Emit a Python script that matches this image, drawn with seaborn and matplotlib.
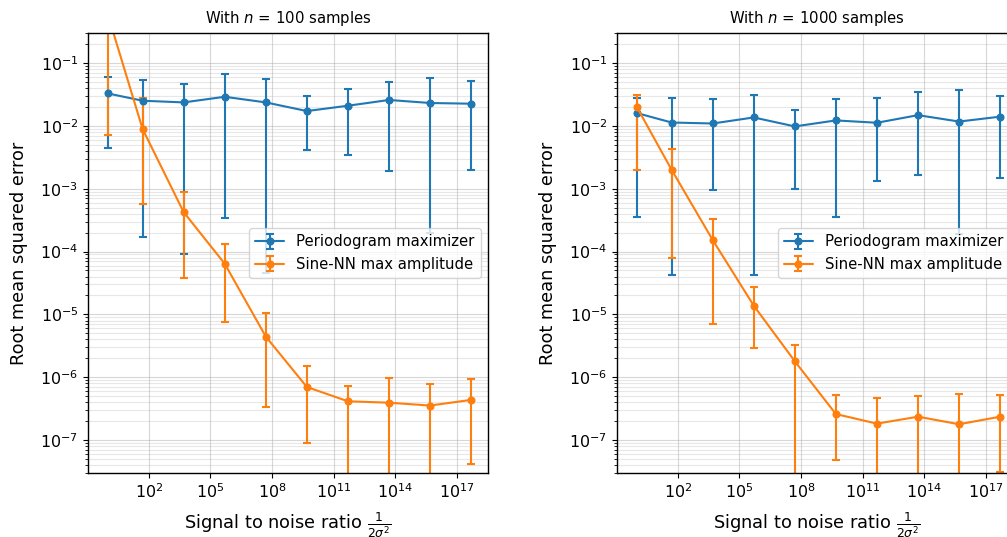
import numpy as np
import matplotlib
matplotlib.use("Agg")
import matplotlib.pyplot as plt
import seaborn as sns

# Signal to noise ratios 1/(2 sigma^2) on the x axis
snr = [1, 5e1, 5e3, 5e5, 5e7, 5e9, 5e11, 5e13, 5e15, 5e17]

# n = 100 samples: mean RMSE with lower / upper bar ends (0 = bar runs below the axis)
peri_mean_100 = [0.0328, 0.0251, 0.0236, 0.029, 0.0236, 0.0172, 0.0209, 0.0258, 0.0231, 0.0225]
peri_low_100 = [0.0044, 1.73e-4, 9.2e-5, 3.4e-4, 4.6e-5, 0.0041, 0.0035, 0.0019, 1.95e-4, 0.0020]
peri_high_100 = [0.060, 0.054, 0.0457, 0.0676, 0.056, 0.030, 0.038, 0.050, 0.058, 0.052]

nn_mean_100 = [0.6, 0.0089, 4.24e-4, 6.4e-5, 4.44e-6, 7.0e-7, 4.15e-7, 3.94e-7, 3.55e-7, 4.37e-7]
nn_low_100 = [0.0072, 5.7e-4, 3.86e-5, 7.6e-6, 3.4e-7, 8.9e-8, 0, 0, 0, 4.2e-8]
nn_high_100 = [1.2, 0.0273, 8.8e-4, 1.31e-4, 1.07e-5, 1.53e-6, 7.24e-7, 9.6e-7, 7.9e-7, 9.5e-7]

# n = 1000 samples
peri_mean_1000 = [0.016, 0.0113, 0.0109, 0.0136, 0.0098, 0.0122, 0.0112, 0.0148, 0.0117, 0.014]
peri_low_1000 = [3.5e-4, 4.3e-5, 9.6e-4, 4.3e-5, 1.0e-3, 3.5e-4, 1.34e-3, 1.66e-3, 1.9e-4, 1.48e-3]
peri_high_1000 = [0.028, 0.0273, 0.0263, 0.0305, 0.0182, 0.0263, 0.0273, 0.034, 0.0366, 0.0294]

nn_mean_1000 = [0.0201, 0.002, 1.53e-4, 1.38e-5, 1.8e-6, 2.6e-7, 1.83e-7, 2.36e-7, 1.79e-7, 2.36e-7]
nn_low_1000 = [0.002, 7.9e-5, 7.1e-6, 2.93e-6, 0, 4.8e-8, 0, 0, 0, 3.1e-8]
nn_high_1000 = [0.031, 0.0043, 3.3e-4, 2.77e-5, 3.27e-6, 5.2e-7, 4.7e-7, 5.0e-7, 5.4e-7, 5.2e-7]

method_labels = ["Periodogram maximizer", "Sine-NN max amplitude"]
panel_titles = ["With $n$ = 100 samples", "With $n$ = 1000 samples"]

sns.set_theme(style="ticks", palette="tab10")
plt.rcParams.update({
    "font.family": ["DejaVu Sans"],
    "text.color": "black",
    "axes.labelcolor": "black",
    "axes.titlecolor": "black",
    "axes.edgecolor": "black",
    "axes.linewidth": 1.0,
    "xtick.major.size": 3.5,
    "ytick.major.size": 3.5,
    "xtick.minor.size": 2.0,
    "ytick.minor.size": 2.0,
    "xtick.major.width": 0.8,
    "ytick.major.width": 0.8,
    "xtick.minor.width": 0.6,
    "ytick.minor.width": 0.6,
    "xtick.color": "black",
    "ytick.color": "black",
    "xtick.labelcolor": "black",
    "ytick.labelcolor": "black",
    "mathtext.fontset": "dejavusans",
})
colors = sns.color_palette("tab10")

fig = plt.figure(figsize=(10.07, 5.37), dpi=100)
W, H = 1007, 537
ax_left = fig.add_axes([88 / W, 64 / H, 400 / W, 440 / H])
ax_right = fig.add_axes([617 / W, 64 / H, 400 / W, 440 / H])

panels = [
    (ax_left, [(peri_mean_100, peri_low_100, peri_high_100),
               (nn_mean_100, nn_low_100, nn_high_100)]),
    (ax_right, [(peri_mean_1000, peri_low_1000, peri_high_1000),
                (nn_mean_1000, nn_low_1000, nn_high_1000)]),
]

for (ax, series), title in zip(panels, panel_titles):
    ax.set_xscale("log")
    ax.set_yscale("log")
    for (mean, low, high), label, color in zip(series, method_labels, colors):
        mean = np.asarray(mean)
        yerr = np.vstack([mean - np.asarray(low), np.asarray(high) - mean])
        ax.errorbar(snr, mean, yerr=yerr, fmt="-o", color=color, label=label,
                    lw=1.5, elinewidth=1.5, markersize=4.8, capsize=2.8,
                    capthick=1.5)
    ax.set_ylim(3e-8, 0.3)
    ax.set_xlim(10 ** -0.96, 10 ** 18.52)
    ax.grid(True, which="major", color="#b0b0b0", alpha=0.5, lw=0.8)
    ax.grid(True, which="minor", color="#b0b0b0", alpha=0.3, lw=0.8)
    ax.set_axisbelow(True)
    ax.tick_params(axis="both", which="major", labelsize=11.4)
    ax.set_title(title, fontsize=10.7, pad=7)
    ax.set_xlabel(r"Signal to noise ratio $\frac{1}{2\sigma^2}$", fontsize=12.8,
                  labelpad=6)
    ax.set_ylabel("Root mean squared error", fontsize=12.8, labelpad=9)
    ax.legend(loc="center right", fontsize=10.7, frameon=True, fancybox=True,
              framealpha=0.8, edgecolor="0.8")
    for spine in ax.spines.values():
        spine.set_visible(True)

fig.savefig("out.png", dpi=100)
